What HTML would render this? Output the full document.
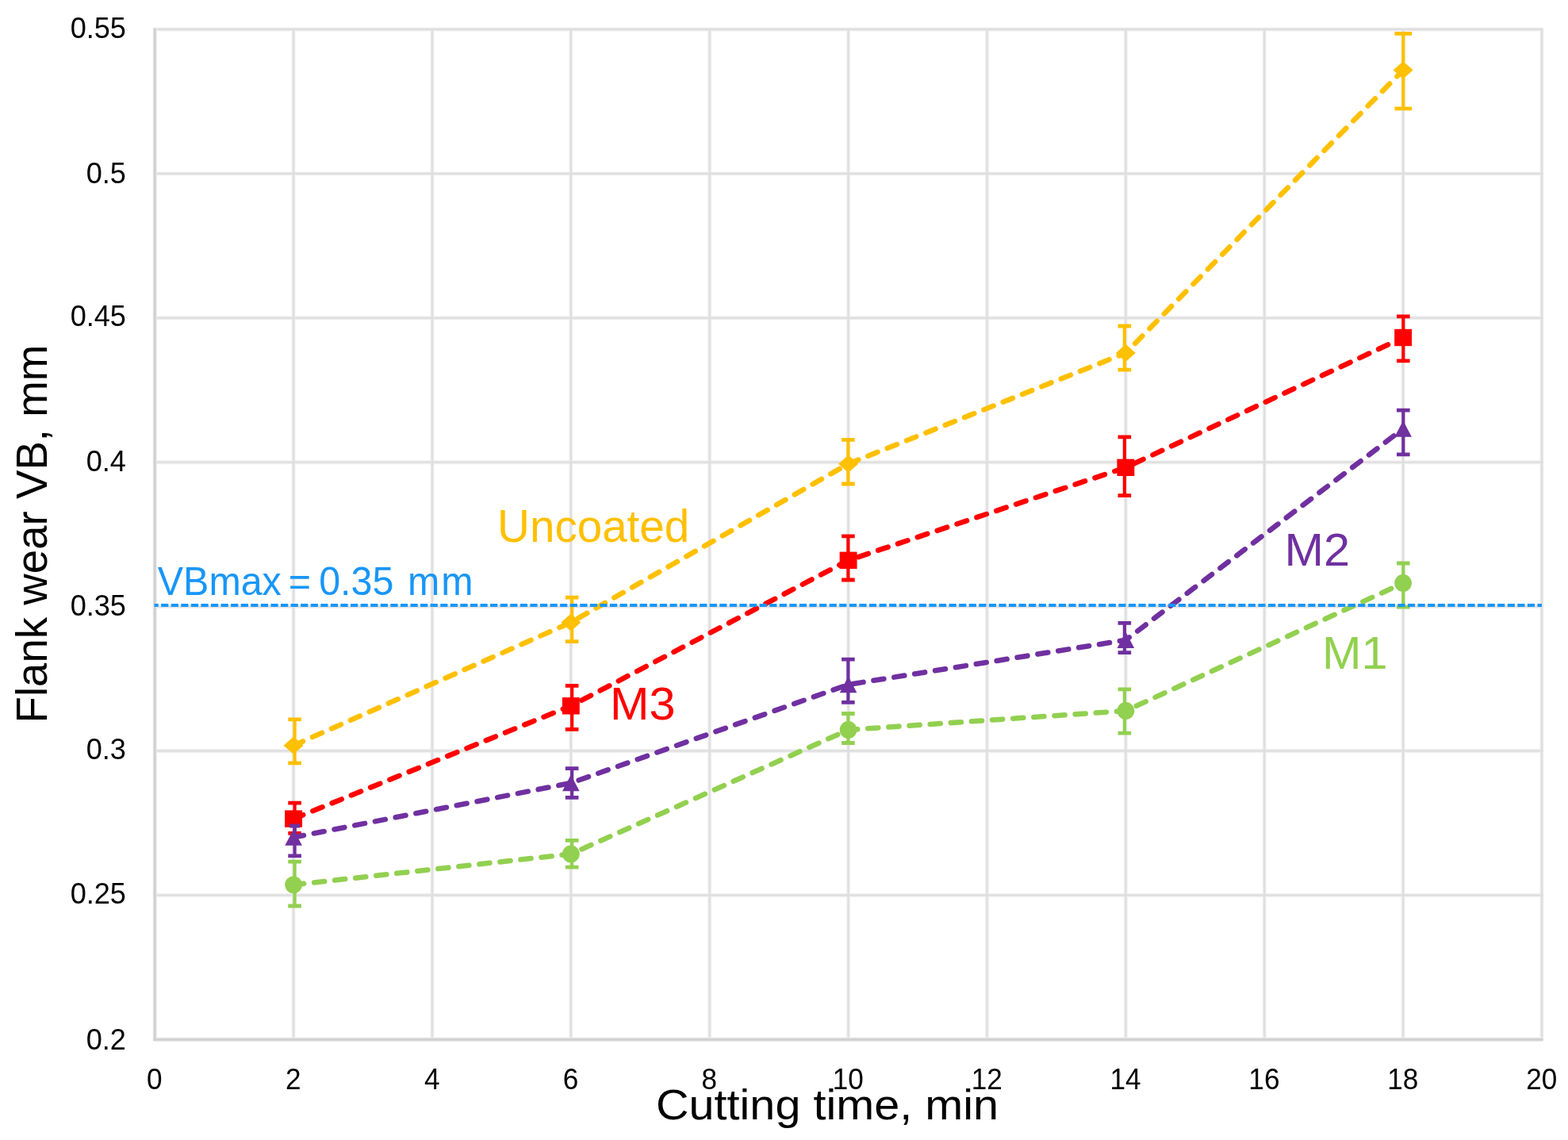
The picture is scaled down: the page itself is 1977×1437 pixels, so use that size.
<!DOCTYPE html>
<html lang="en"><head><meta charset="utf-8"><title>Flank wear VB vs cutting time</title>
<style>html,body{margin:0;padding:0;background:#fff}svg{display:block}text{font-family:"Liberation Sans",sans-serif}</style></head><body>
<svg xmlns="http://www.w3.org/2000/svg" width="1977" height="1437" viewBox="0 0 1977 1437">
<rect width="1977" height="1437" fill="#fff"/>
<g id="chart">
<g id="grid" fill="none">
<path d="M370.08 37.00L370.08 1310.30M544.96 37.00L544.96 1310.30M719.84 37.00L719.84 1310.30M894.72 37.00L894.72 1310.30M1069.60 37.00L1069.60 1310.30M1244.48 37.00L1244.48 1310.30M1419.36 37.00L1419.36 1310.30M1594.24 37.00L1594.24 1310.30M1769.12 37.00L1769.12 1310.30M1944.00 37.00L1944.00 1310.30M195.20 37.00L1945.60 37.00M195.20 218.90L1945.60 218.90M195.20 400.80L1945.60 400.80M195.20 582.70L1945.60 582.70M195.20 764.60L1945.60 764.60M195.20 946.50L1945.60 946.50M195.20 1128.40L1945.60 1128.40" stroke="#f6f6f6" stroke-width="5.4"/>
<path d="M370.08 37.00L370.08 1310.30M544.96 37.00L544.96 1310.30M719.84 37.00L719.84 1310.30M894.72 37.00L894.72 1310.30M1069.60 37.00L1069.60 1310.30M1244.48 37.00L1244.48 1310.30M1419.36 37.00L1419.36 1310.30M1594.24 37.00L1594.24 1310.30M1769.12 37.00L1769.12 1310.30M1944.00 37.00L1944.00 1310.30M195.20 37.00L1945.60 37.00M195.20 218.90L1945.60 218.90M195.20 400.80L1945.60 400.80M195.20 582.70L1945.60 582.70M195.20 764.60L1945.60 764.60M195.20 946.50L1945.60 946.50M195.20 1128.40L1945.60 1128.40" stroke="#ebebeb" stroke-width="3.8"/>
<path d="M370.08 37.00L370.08 1310.30M544.96 37.00L544.96 1310.30M719.84 37.00L719.84 1310.30M894.72 37.00L894.72 1310.30M1069.60 37.00L1069.60 1310.30M1244.48 37.00L1244.48 1310.30M1419.36 37.00L1419.36 1310.30M1594.24 37.00L1594.24 1310.30M1769.12 37.00L1769.12 1310.30M1944.00 37.00L1944.00 1310.30M195.20 37.00L1945.60 37.00M195.20 218.90L1945.60 218.90M195.20 400.80L1945.60 400.80M195.20 582.70L1945.60 582.70M195.20 764.60L1945.60 764.60M195.20 946.50L1945.60 946.50M195.20 1128.40L1945.60 1128.40" stroke="#dedede" stroke-width="2"/>
</g>
<g id="axes" fill="none">
<path d="M195.20 35.40L195.20 1311.90M193.60 1310.30L1945.60 1310.30" stroke="#f1f1f1" stroke-width="5.4"/>
<path d="M195.20 35.40L195.20 1311.90M193.60 1310.30L1945.60 1310.30" stroke="#dadada" stroke-width="3.8"/>
<path d="M195.20 35.40L195.20 1311.90M193.60 1310.30L1945.60 1310.30" stroke="#d0d0d0" stroke-width="2.2"/>
</g>
<g id="s-yel">
<polyline points="370.08,939.70 719.84,784.60 1069.60,584.70 1419.36,444.90 1769.12,88.30" fill="none" stroke="#ffc000" stroke-width="6.55" stroke-linecap="round" stroke-linejoin="round" stroke-dasharray="13.1 13.1"/>
<path d="M371.58 906.80V961.90M721.14 753.10V808.70M1069.40 554.40V610.00M1417.86 411.00V466.10M1769.32 42.30V136.80" fill="none" stroke="#ffc000" stroke-width="4.2"/>
<path d="M363.28 906.80H379.88M363.28 961.90H379.88M712.84 753.10H729.44M712.84 808.70H729.44M1061.10 554.40H1077.70M1061.10 610.00H1077.70M1409.56 411.00H1426.16M1409.56 466.10H1426.16M1758.52 42.30H1780.12M1758.52 136.80H1780.12" fill="none" stroke="#ffc000" stroke-width="4.8"/>
<path d="M370.08 928.60L382.58 939.70L370.08 950.80L357.58 939.70Z" fill="#ffc000"/>
<path d="M719.84 773.50L732.34 784.60L719.84 795.70L707.34 784.60Z" fill="#ffc000"/>
<path d="M1069.60 573.60L1082.10 584.70L1069.60 595.80L1057.10 584.70Z" fill="#ffc000"/>
<path d="M1419.36 433.80L1431.86 444.90L1419.36 456.00L1406.86 444.90Z" fill="#ffc000"/>
<path d="M1769.12 77.20L1781.62 88.30L1769.12 99.40L1756.62 88.30Z" fill="#ffc000"/>
</g>
<g id="s-red">
<polyline points="370.08,1032.10 719.84,889.80 1069.60,706.30 1419.36,589.30 1769.12,425.50" fill="none" stroke="#ff0000" stroke-width="6.55" stroke-linecap="round" stroke-linejoin="round" stroke-dasharray="13.1 13.1"/>
<path d="M371.58 1012.10V1050.30M721.14 864.30V919.40M1069.40 675.90V731.00M1417.86 550.90V624.70M1769.32 398.90V454.90" fill="none" stroke="#ff0000" stroke-width="4.2"/>
<path d="M363.28 1012.10H379.88M363.28 1050.30H379.88M712.84 864.30H729.44M712.84 919.40H729.44M1061.10 675.90H1077.70M1061.10 731.00H1077.70M1409.56 550.90H1426.16M1409.56 624.70H1426.16M1761.02 398.90H1777.62M1761.02 454.90H1777.62" fill="none" stroke="#ff0000" stroke-width="4.8"/>
<rect x="359.13" y="1021.40" width="21.9" height="21.4" fill="#ff0000"/>
<rect x="708.89" y="879.10" width="21.9" height="21.4" fill="#ff0000"/>
<rect x="1058.65" y="695.60" width="21.9" height="21.4" fill="#ff0000"/>
<rect x="1408.41" y="578.60" width="21.9" height="21.4" fill="#ff0000"/>
<rect x="1758.17" y="414.80" width="21.9" height="21.4" fill="#ff0000"/>
</g>
<g id="s-pur">
<polyline points="370.08,1055.50 719.84,987.00 1069.60,862.90 1419.36,806.80 1769.12,540.50" fill="none" stroke="#7030a0" stroke-width="6.55" stroke-linecap="round" stroke-linejoin="round" stroke-dasharray="13.1 13.1"/>
<path d="M371.58 1041.00V1078.80M721.14 968.70V1005.40M1069.40 831.20V885.40M1417.86 785.30V822.70M1769.32 517.10V572.90" fill="none" stroke="#7030a0" stroke-width="4.2"/>
<path d="M364.98 1041.00H378.18M363.28 1078.80H379.88M712.84 968.70H729.44M712.84 1005.40H729.44M1061.10 831.20H1077.70M1061.10 885.40H1077.70M1409.56 785.30H1426.16M1409.56 822.70H1426.16M1761.02 517.10H1777.62M1761.02 572.90H1777.62" fill="none" stroke="#7030a0" stroke-width="4.8"/>
<path d="M370.08 1045.20L380.88 1065.80L359.28 1065.80Z" fill="#7030a0"/>
<path d="M719.84 976.70L730.64 997.30L709.04 997.30Z" fill="#7030a0"/>
<path d="M1069.60 852.60L1080.40 873.20L1058.80 873.20Z" fill="#7030a0"/>
<path d="M1419.36 796.50L1430.16 817.10L1408.56 817.10Z" fill="#7030a0"/>
<path d="M1769.12 530.20L1779.92 550.80L1758.32 550.80Z" fill="#7030a0"/>
</g>
<g id="s-grn">
<polyline points="370.08,1115.30 719.84,1076.50 1069.60,920.00 1419.36,896.00 1769.12,735.00" fill="none" stroke="#92d050" stroke-width="6.55" stroke-linecap="round" stroke-linejoin="round" stroke-dasharray="13.1 13.1"/>
<path d="M371.58 1086.20V1142.00M721.14 1059.30V1093.10M1069.40 899.50V936.50M1417.86 868.90V924.10M1769.32 710.00V765.10" fill="none" stroke="#92d050" stroke-width="4.2"/>
<path d="M363.28 1086.20H379.88M363.28 1142.00H379.88M712.84 1059.30H729.44M712.84 1093.10H729.44M1061.10 899.50H1077.70M1061.10 936.50H1077.70M1409.56 868.90H1426.16M1409.56 924.10H1426.16M1761.02 710.00H1777.62M1761.02 765.10H1777.62" fill="none" stroke="#92d050" stroke-width="4.8"/>
<circle cx="370.08" cy="1115.30" r="10.9" fill="#92d050"/>
<circle cx="719.84" cy="1076.50" r="10.9" fill="#92d050"/>
<circle cx="1069.60" cy="920.00" r="10.9" fill="#92d050"/>
<circle cx="1419.36" cy="896.00" r="10.9" fill="#92d050"/>
<circle cx="1769.12" cy="735.00" r="10.9" fill="#92d050"/>
</g>
<line x1="194.6" y1="763.05" x2="1944.0" y2="763.05" stroke="#1896f8" stroke-width="4" stroke-dasharray="9.2 3.375" stroke-dashoffset="4.065" id="vbmax"/>
<g id="labels">
<text transform="translate(158.9 48) scale(0.955 1)" font-size="37.8" fill="#000" text-anchor="end">0.55</text>
<text transform="translate(158.9 231) scale(0.955 1)" font-size="37.8" fill="#000" text-anchor="end">0.5</text>
<text transform="translate(158.9 411) scale(0.955 1)" font-size="37.8" fill="#000" text-anchor="end">0.45</text>
<text transform="translate(158.9 594) scale(0.955 1)" font-size="37.8" fill="#000" text-anchor="end">0.4</text>
<text transform="translate(158.9 776) scale(0.955 1)" font-size="37.8" fill="#000" text-anchor="end">0.35</text>
<text transform="translate(158.9 957) scale(0.955 1)" font-size="37.8" fill="#000" text-anchor="end">0.3</text>
<text transform="translate(158.9 1139) scale(0.955 1)" font-size="37.8" fill="#000" text-anchor="end">0.25</text>
<text transform="translate(158.9 1323) scale(0.955 1)" font-size="37.8" fill="#000" text-anchor="end">0.2</text>
<text transform="translate(194.9 1373.0) scale(0.93 1)" font-size="37.8" fill="#000" text-anchor="middle">0</text>
<text transform="translate(369.8 1373.0) scale(0.93 1)" font-size="37.8" fill="#000" text-anchor="middle">2</text>
<text transform="translate(544.7 1373.0) scale(0.93 1)" font-size="37.8" fill="#000" text-anchor="middle">4</text>
<text transform="translate(719.5 1373.0) scale(0.93 1)" font-size="37.8" fill="#000" text-anchor="middle">6</text>
<text transform="translate(894.4 1373.0) scale(0.93 1)" font-size="37.8" fill="#000" text-anchor="middle">8</text>
<text transform="translate(1069.3 1373.0) scale(0.93 1)" font-size="37.8" fill="#000" text-anchor="middle">10</text>
<text transform="translate(1244.2 1373.0) scale(0.93 1)" font-size="37.8" fill="#000" text-anchor="middle">12</text>
<text transform="translate(1419.1 1373.0) scale(0.93 1)" font-size="37.8" fill="#000" text-anchor="middle">14</text>
<text transform="translate(1593.9 1373.0) scale(0.93 1)" font-size="37.8" fill="#000" text-anchor="middle">16</text>
<text transform="translate(1768.8 1373.0) scale(0.93 1)" font-size="37.8" fill="#000" text-anchor="middle">18</text>
<text transform="translate(1943.7 1373.0) scale(0.93 1)" font-size="37.8" fill="#000" text-anchor="middle">20</text>
<text transform="translate(826.9 1410.9) scale(1.071 1)" font-size="53.8" fill="#000" text-anchor="start">Cutting time, min</text>
<text transform="translate(59.15 911.5) rotate(-90) scale(0.976 1)" font-size="56.0" fill="#000" text-anchor="start">Flank wear VB, mm</text>
<text transform="translate(627.1 683.4) scale(0.984 1)" font-size="57.5" fill="#ffc000" text-anchor="start">Uncoated</text>
<text transform="translate(769.0 907.2) scale(1.048 1)" font-size="56.7" fill="#ff0000" text-anchor="start">M3</text>
<text transform="translate(1619.4 712.9) scale(1.048 1)" font-size="56.7" fill="#7030a0" text-anchor="start">M2</text>
<text transform="translate(1667.1 843.1) scale(1.048 1)" font-size="56.7" fill="#92d050" text-anchor="start">M1</text>
<text transform="translate(198.85 749.5) scale(0.968 1)" font-size="50.0" fill="#1896f8" text-anchor="start">VBmax<tspan dx="-4.6"> =</tspan><tspan dx="-3.4"> 0.35</tspan><tspan dx="4.4"> m</tspan><tspan dx="2.0">m</tspan></text>
</g>
</g>
</svg></body></html>
